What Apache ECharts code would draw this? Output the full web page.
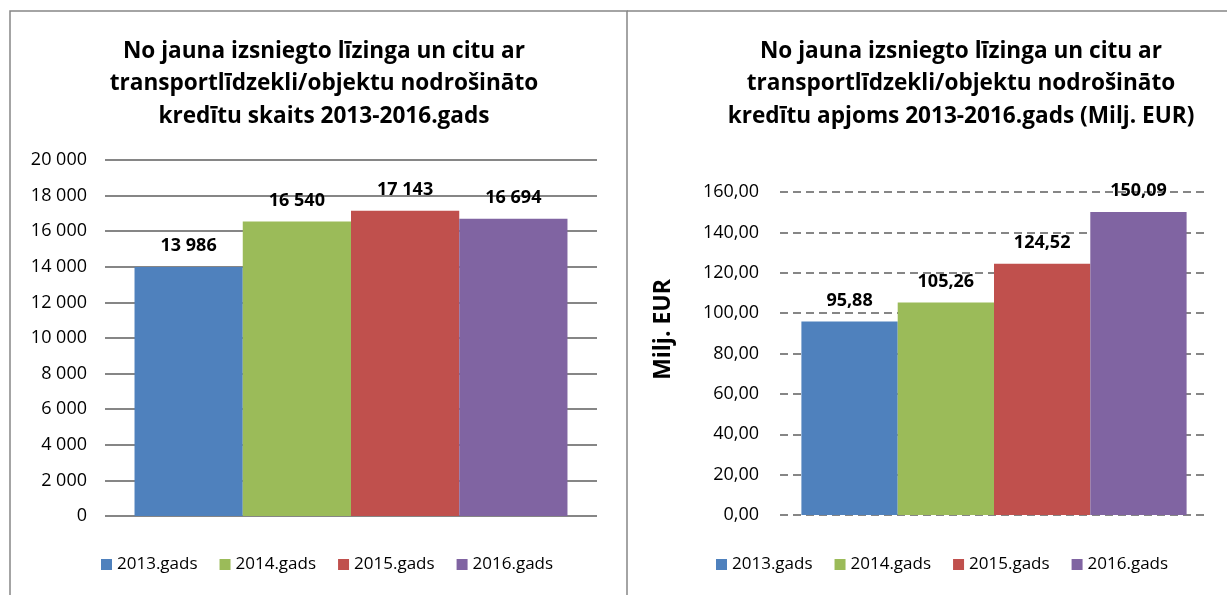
<!DOCTYPE html>
<html>
<head>
<meta charset="utf-8">
<script src="https://cdn.jsdelivr.net/npm/echarts@6/dist/echarts.min.js"></script>
<style>
  html, body { margin: 0; padding: 0; background: #fff; }
  #chart { width: 1227px; height: 595px; }
</style>
</head>
<body>
<div id="chart"></div>
<script>
// data
const years = ['2013.gads', '2014.gads', '2015.gads', '2016.gads'];
const countValues = [13986, 16540, 17143, 16694];
const volumeValues = [95.88, 105.26, 124.52, 150.09];
const colors = ['#4F81BD', '#9BBB59', '#C0504D', '#8064A2'];
const countTitle = 'No jauna izsniegto līzinga un citu ar\ntransportlīdzekli/objektu nodrošināto\nkredītu skaits 2013-2016.gads';
const volumeTitle = 'No jauna izsniegto līzinga un citu ar\ntransportlīdzekli/objektu nodrošināto\nkredītu apjoms 2013-2016.gads (Milj. EUR)';

const FONT = '"Open Sans", sans-serif';
const chart = echarts.init(document.getElementById('chart'));

const fmtSpace = v => String(Math.round(v)).replace(/\B(?=(\d{3})+(?!\d))/g, ' ');
const fmtComma = v => Number(v).toFixed(2).replace('.', ',');

const makeSeries = (values, axisIdx, fmt) => years.map((name, i) => ({
    name: name,
    type: 'bar',
    xAxisIndex: axisIdx,
    yAxisIndex: axisIdx,
    data: [values[i]],
    barGap: '0%',
    barCategoryGap: axisIdx === 0 ? '12%' : '10%',
    itemStyle: { color: colors[i] },
    label: {
        show: true,
        position: 'top',
        distance: 12,
        formatter: p => fmt(p.value),
        fontFamily: FONT,
        fontWeight: 'bold',
        fontSize: 18,
        color: '#000'
    }
}));

const legendBase = {
    data: years,
    icon: 'rect',
    itemWidth: 11,
    itemHeight: 11,
    itemGap: 22,
    textStyle: { fontFamily: FONT, fontSize: 17, color: '#000' }
};

const titleStyle = { fontFamily: FONT, fontWeight: 'bold', fontSize: 22.6, lineHeight: 32.5, color: '#000' };

const option = {
    backgroundColor: '#fff',
    animation: false,
    title: [
        { text: countTitle, left: 319, top: 30, textAlign: 'center', textStyle: titleStyle },
        { text: volumeTitle, left: 956, top: 30, textAlign: 'center', textStyle: titleStyle }
    ],
    legend: [
        Object.assign({ left: 96, top: 551 }, legendBase),
        Object.assign({ left: 711, top: 551 }, legendBase)
    ],
    grid: [
        { left: 105, right: 630, top: 160, bottom: 79 },
        { left: 780, right: 19, top: 192, bottom: 80 }
    ],
    xAxis: [
        { type: 'category', gridIndex: 0, data: [''], axisLine: { show: false }, axisTick: { show: false }, axisLabel: { show: false } },
        { type: 'category', gridIndex: 1, data: [''], axisLine: { show: false }, axisTick: { show: false }, axisLabel: { show: false } }
    ],
    yAxis: [
        {
            type: 'value', gridIndex: 0, min: 0, max: 20000, interval: 2000,
            axisLabel: { formatter: fmtSpace, fontFamily: FONT, fontSize: 18, color: '#000', margin: 18 },
            splitLine: { lineStyle: { color: '#868686', width: 1.8 } },
            axisLine: { show: false }, axisTick: { show: false }
        },
        {
            type: 'value', gridIndex: 1, min: 0, max: 160, interval: 20,
            name: 'Milj. EUR',
            nameLocation: 'middle',
            nameRotate: 90,
            nameGap: 105,
            nameTextStyle: { fontFamily: FONT, fontWeight: 'bold', fontSize: 23, color: '#000', padding: [0, 0, 0, 48] },
            axisLabel: { formatter: fmtComma, fontFamily: FONT, fontSize: 18, color: '#000', margin: 21 },
            splitLine: { lineStyle: { color: '#868686', width: 1.8, type: [8, 5] } },
            axisLine: { show: false }, axisTick: { show: false }
        }
    ],
    series: makeSeries(countValues, 0, fmtSpace).concat(makeSeries(volumeValues, 1, fmtComma)),
    graphic: [
        { type: 'polyline', shape: { points: [[10, 600], [10, 11], [627, 11], [627, 600]] }, style: { stroke: '#868686', lineWidth: 1.5, fill: null } },
        { type: 'polyline', shape: { points: [[627, 11], [1230, 11]] }, style: { stroke: '#868686', lineWidth: 1.5, fill: null } }
    ]
};

chart.setOption(option);
</script>
</body>
</html>
